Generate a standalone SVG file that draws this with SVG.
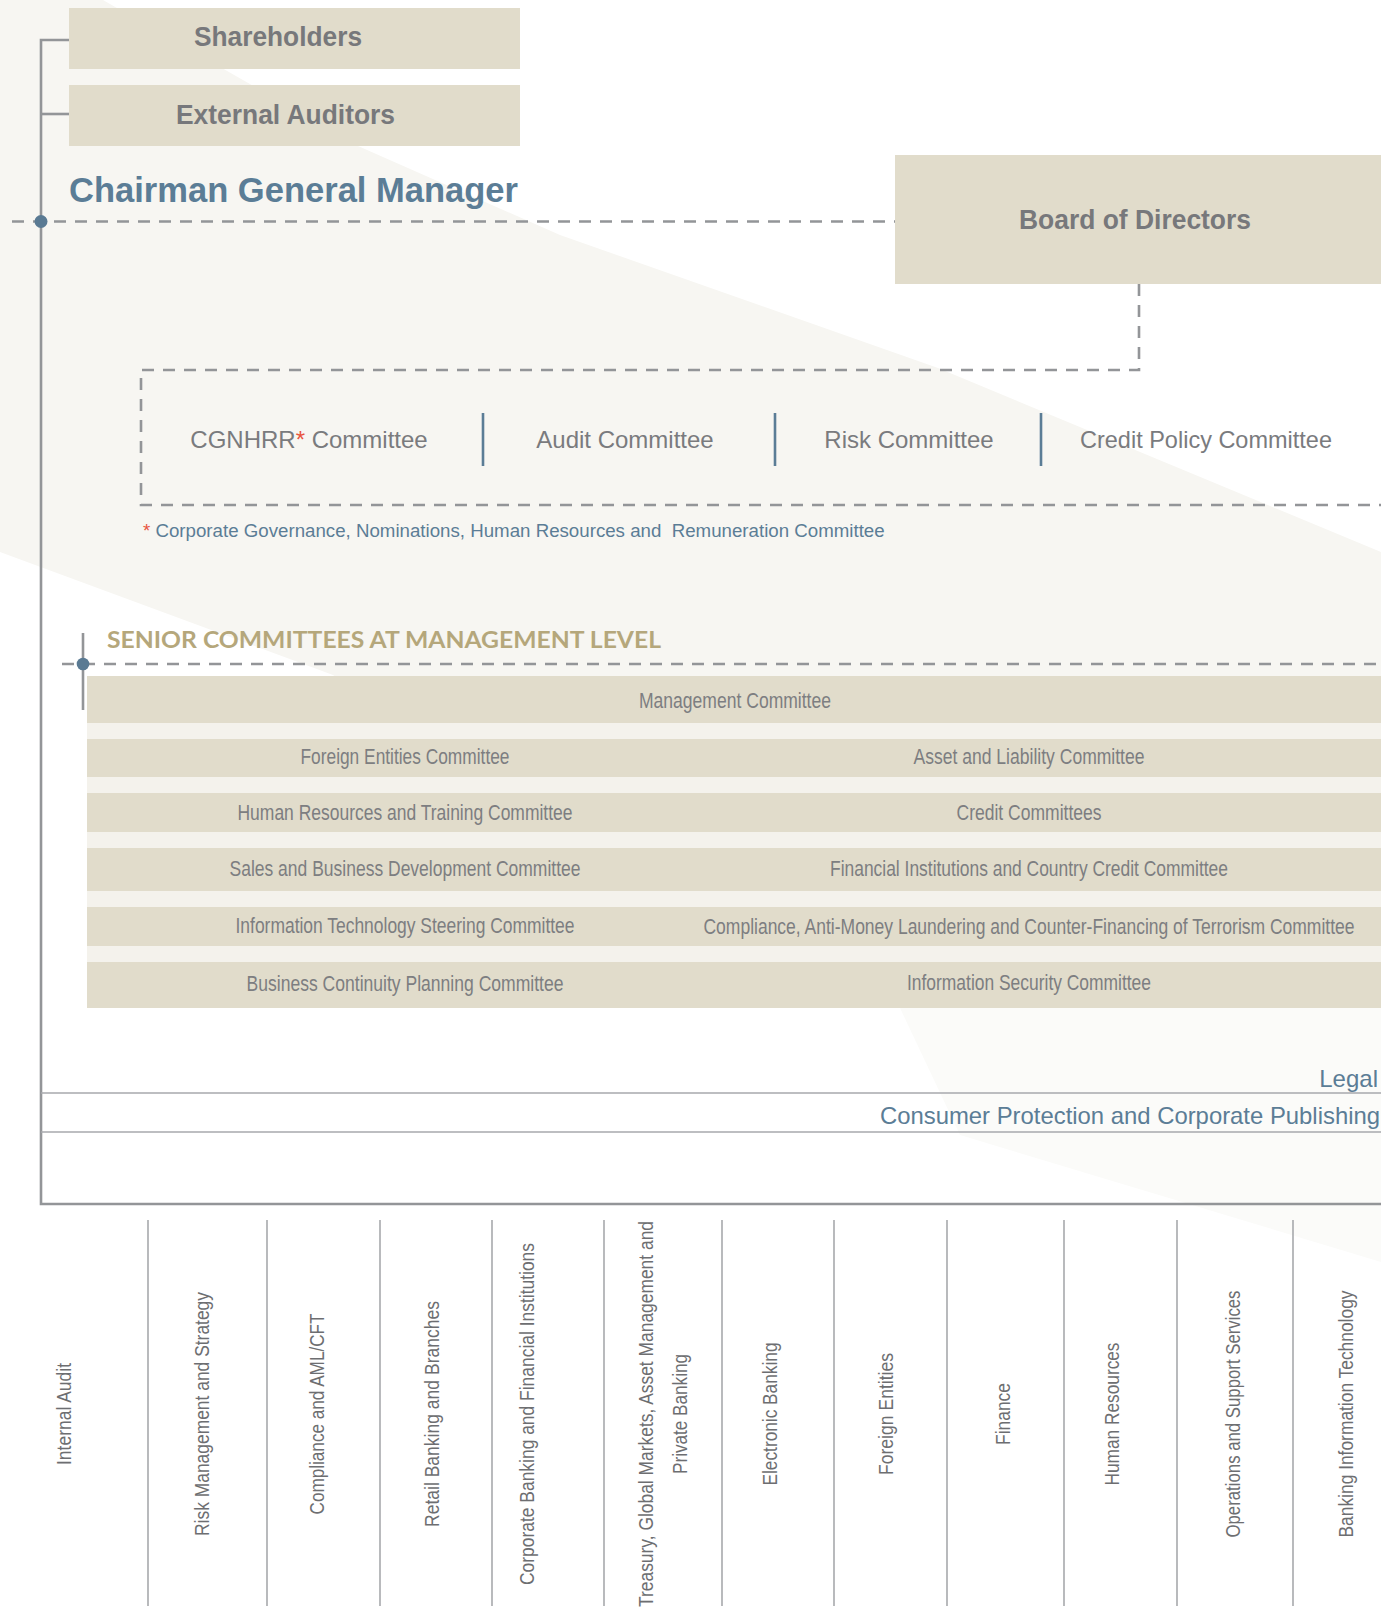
<svg xmlns="http://www.w3.org/2000/svg" width="1381" height="1622" viewBox="0 0 1381 1622">
  <defs>
    <style>
      .box { fill: #e1dccb; }
      .row { fill: #e1dccb; }
      .bt { font-family: "Liberation Sans", Arial, sans-serif; font-weight: bold; font-size: 27px; fill: #77787b; text-anchor: middle; }
      .cm { font-family: "Liberation Sans", Arial, sans-serif; font-size: 24px; fill: #7a7b7e; text-anchor: middle; }
      .sc { font-family: "Liberation Sans Narrow", "Liberation Sans", Arial, sans-serif; font-size: 21.5px; fill: #7d7e81; text-anchor: middle; }
      .dept { font-family: "Liberation Sans Narrow", "Liberation Sans", Arial, sans-serif; font-size: 21px; fill: #6d6e71; text-anchor: middle; }
      .blue { font-family: "Liberation Sans", Arial, sans-serif; fill: #5b7d96; }
      .dash { fill: none; stroke: #939598; stroke-width: 2.6; stroke-dasharray: 12 9; }
      .solid { fill: none; stroke: #939598; stroke-width: 2.6; }
      .thin { fill: none; stroke: #a7a9ac; stroke-width: 1.6; }
      .div { fill: none; stroke: #5b7d96; stroke-width: 2.6; }
      .dot { fill: #5a7a93; }
      .star { fill: #e8543f; }
    </style>
  </defs>

  <!-- page background and the soft diagonal band -->
  <rect x="0" y="0" width="1381" height="1622" fill="#ffffff"/>
  <path d="M0,0 H103 L358,146 L560,235 L938,368 L1381,552 V1008 L760,1008 L333,675 L0,552 Z" fill="#f7f6f2"/>
  <path d="M900,1008 H1381 V1262 L960,1135 Z" fill="#fbfbf9"/>

  <!-- connectors -->
  <g id="connectors">
    <!-- main trunk on the left -->
    <path class="solid" d="M69,40 H41 V1204 H1381"/>
    <path class="solid" d="M41,114 H69"/>
    <!-- chairman level dashed link to the board -->
    <path class="dash" d="M12,221.5 H895"/>
    <circle class="dot" cx="41" cy="221.5" r="6.5"/>
    <!-- board to board committees -->
    <path class="dash" d="M1139,284 V370 H141 V505 H1381"/>
    <!-- senior committees level -->
    <path class="solid" d="M83,633 V710"/>
    <path class="dash" d="M62,664 H1381"/>
    <circle class="dot" cx="83" cy="664" r="6.3"/>
    <!-- support functions rules -->
    <path class="thin" d="M41,1093 H1381"/>
    <path class="thin" d="M41,1132 H1381"/>
    <!-- department column dividers -->
    <g class="thin">
      <path d="M148,1220 V1606"/>
      <path d="M267,1220 V1606"/>
      <path d="M380,1220 V1606"/>
      <path d="M492,1220 V1606"/>
      <path d="M604,1220 V1606"/>
      <path d="M722,1220 V1606"/>
      <path d="M834,1220 V1606"/>
      <path d="M947,1220 V1606"/>
      <path d="M1064,1220 V1606"/>
      <path d="M1177,1220 V1606"/>
      <path d="M1293,1220 V1606"/>
    </g>
  </g>

  <!-- governance bodies -->
  <g id="shareholders">
    <rect class="box" x="69" y="8" width="451" height="61"/>
    <text class="bt" x="278" y="46" textLength="168" lengthAdjust="spacingAndGlyphs">Shareholders</text>
  </g>
  <g id="external-auditors">
    <rect class="box" x="69" y="85" width="451" height="61"/>
    <text class="bt" x="285.5" y="124" textLength="219" lengthAdjust="spacingAndGlyphs">External Auditors</text>
  </g>
  <g id="chairman">
    <text class="blue" x="69" y="202" font-size="34.5" font-weight="bold" textLength="449" lengthAdjust="spacingAndGlyphs">Chairman General Manager</text>
  </g>
  <g id="board">
    <rect class="box" x="895" y="155" width="486" height="129"/>
    <text class="bt" x="1135" y="229" textLength="232" lengthAdjust="spacingAndGlyphs">Board of Directors</text>
  </g>

  <!-- board committees -->
  <g id="board-committees">
    <text class="cm" x="309" y="448">CGNHRR<tspan class="star">*</tspan> Committee</text>
    <path class="div" d="M483,413 V466"/>
    <text class="cm" x="625" y="448">Audit Committee</text>
    <path class="div" d="M775,413 V466"/>
    <text class="cm" x="909" y="448">Risk Committee</text>
    <path class="div" d="M1041,413 V466"/>
    <text class="cm" x="1206" y="448" textLength="252" lengthAdjust="spacingAndGlyphs">Credit Policy Committee</text>
  </g>
  <g id="footnote">
    <text class="blue" x="143" y="537" font-size="18.7"><tspan class="star">*</tspan> Corporate Governance, Nominations, Human Resources and&#160; Remuneration Committee</text>
  </g>

  <!-- senior committees at management level -->
  <g id="senior-committees">
    <text x="107" y="648" font-family="Lato, 'Liberation Sans', Arial, sans-serif" font-weight="bold" font-size="23" fill="#b5a77b" textLength="554" lengthAdjust="spacingAndGlyphs">SENIOR COMMITTEES AT MANAGEMENT LEVEL</text>
    <rect x="87" y="676" width="1294" height="332" fill="#f4f2ec"/>
    <g id="row-management">
      <rect class="row" x="87" y="676" width="1294" height="47"/>
      <text class="sc" x="735" y="708" textLength="192" lengthAdjust="spacingAndGlyphs">Management Committee</text>
    </g>
    <g id="row-2">
      <rect class="row" x="87" y="739" width="1294" height="38"/>
      <text class="sc" x="405" y="764" textLength="209" lengthAdjust="spacingAndGlyphs">Foreign Entities Committee</text>
      <text class="sc" x="1029" y="764" textLength="231" lengthAdjust="spacingAndGlyphs">Asset and Liability Committee</text>
    </g>
    <g id="row-3">
      <rect class="row" x="87" y="793" width="1294" height="39"/>
      <text class="sc" x="405" y="820" textLength="335" lengthAdjust="spacingAndGlyphs">Human Resources and Training Committee</text>
      <text class="sc" x="1029" y="820" textLength="145" lengthAdjust="spacingAndGlyphs">Credit Committees</text>
    </g>
    <g id="row-4">
      <rect class="row" x="87" y="848" width="1294" height="43"/>
      <text class="sc" x="405" y="876" textLength="351" lengthAdjust="spacingAndGlyphs">Sales and Business Development Committee</text>
      <text class="sc" x="1029" y="876" textLength="398" lengthAdjust="spacingAndGlyphs">Financial Institutions and Country Credit Committee</text>
    </g>
    <g id="row-5">
      <rect class="row" x="87" y="907" width="1294" height="39"/>
      <text class="sc" x="405" y="933" textLength="339" lengthAdjust="spacingAndGlyphs">Information Technology Steering Committee</text>
      <!-- long label: drawn horizontally condensed so it stays inside the row -->
      <text class="sc" transform="scale(0.8,1)" x="1286.25" y="934" textLength="813.75" lengthAdjust="spacingAndGlyphs">Compliance, Anti-Money Laundering and Counter-Financing of Terrorism Committee</text>
    </g>
    <g id="row-6">
      <rect class="row" x="87" y="962" width="1294" height="46"/>
      <text class="sc" x="405" y="991" textLength="317" lengthAdjust="spacingAndGlyphs">Business Continuity Planning Committee</text>
      <text class="sc" x="1029" y="990" textLength="244" lengthAdjust="spacingAndGlyphs">Information Security Committee</text>
    </g>
  </g>

  <!-- support functions -->
  <g id="legal">
    <text class="blue" x="1378" y="1087" font-size="24" text-anchor="end">Legal</text>
  </g>
  <g id="consumer-protection">
    <text class="blue" x="880" y="1124" font-size="24" textLength="500" lengthAdjust="spacingAndGlyphs">Consumer Protection and Corporate Publishing</text>
  </g>

  <!-- departments -->
  <g id="dept-internal-audit"><text class="dept" transform="translate(71,1414) rotate(-90)" textLength="102" lengthAdjust="spacingAndGlyphs">Internal Audit</text></g>
  <g id="dept-risk"><text class="dept" transform="translate(209,1414) rotate(-90)" textLength="244" lengthAdjust="spacingAndGlyphs">Risk Management and Strategy</text></g>
  <g id="dept-compliance"><text class="dept" transform="translate(324,1414) rotate(-90)" textLength="201" lengthAdjust="spacingAndGlyphs">Compliance and AML/CFT</text></g>
  <g id="dept-retail"><text class="dept" transform="translate(439,1414) rotate(-90)" textLength="226" lengthAdjust="spacingAndGlyphs">Retail Banking and Branches</text></g>
  <g id="dept-corporate"><text class="dept" transform="translate(534,1414) rotate(-90)" textLength="342" lengthAdjust="spacingAndGlyphs">Corporate Banking and Financial Institutions</text></g>
  <g id="dept-treasury">
    <text class="dept" transform="translate(653,1414) rotate(-90)" textLength="386" lengthAdjust="spacingAndGlyphs">Treasury, Global Markets, Asset Management and</text>
    <text class="dept" transform="translate(687,1414) rotate(-90)" textLength="120" lengthAdjust="spacingAndGlyphs">Private Banking</text>
  </g>
  <g id="dept-electronic"><text class="dept" transform="translate(777,1414) rotate(-90)" textLength="143" lengthAdjust="spacingAndGlyphs">Electronic Banking</text></g>
  <g id="dept-foreign"><text class="dept" transform="translate(893,1414) rotate(-90)" textLength="122" lengthAdjust="spacingAndGlyphs">Foreign Entities</text></g>
  <g id="dept-finance"><text class="dept" transform="translate(1010,1414) rotate(-90)" textLength="62" lengthAdjust="spacingAndGlyphs">Finance</text></g>
  <g id="dept-hr"><text class="dept" transform="translate(1119,1414) rotate(-90)" textLength="143" lengthAdjust="spacingAndGlyphs">Human Resources</text></g>
  <g id="dept-operations"><text class="dept" transform="translate(1240,1414) rotate(-90)" textLength="247" lengthAdjust="spacingAndGlyphs">Operations and Support Services</text></g>
  <g id="dept-it"><text class="dept" transform="translate(1353,1414) rotate(-90)" textLength="247" lengthAdjust="spacingAndGlyphs">Banking Information Technology</text></g>
</svg>
